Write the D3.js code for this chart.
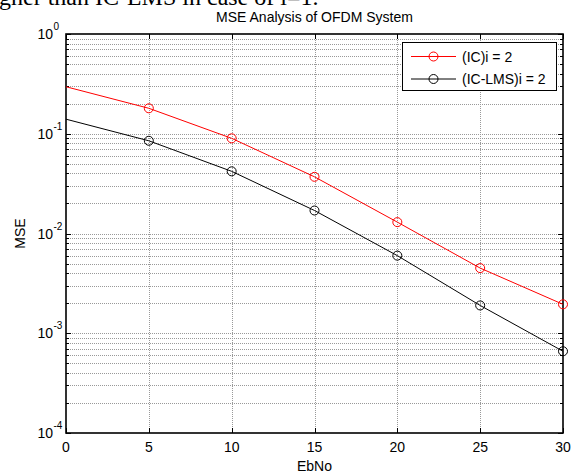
<!DOCTYPE html>
<html>
<head>
<meta charset="utf-8">
<script src="https://cdn.jsdelivr.net/npm/d3@7"></script>
<style>
  body { margin: 0; background: #fff; }
  svg { display: block; font-family: Arial, "Liberation Sans", sans-serif; }
</style>
</head>
<body>
<div id="chart"></div>
<script>
// data
var ebno = [0, 5, 10, 15, 20, 25, 30];
var mseIC = [0.296, 0.18, 0.09, 0.037, 0.013, 0.0045, 0.00195];
var mseICLMS = [0.14, 0.085, 0.042, 0.017, 0.006, 0.0019, 0.00066];
var seriesNames = ['(IC)i = 2', '(IC-LMS)i = 2'];
var seriesColors = ['#ff0000', '#000000'];
var xTicks = [0, 5, 10, 15, 20, 25, 30];
var yDecades = [0, -1, -2, -3, -4];

var series = [
  { name: seriesNames[0], color: seriesColors[0], values: mseIC },
  { name: seriesNames[1], color: seriesColors[1], values: mseICLMS }
];

// dimensions
var dimensions = {
  width: 574,
  height: 474,
  left: 66,
  right: 563,
  top: 34,
  bottom: 433
};

var svg = d3.select('#chart')
  .append('svg')
  .attr('width', dimensions.width)
  .attr('height', dimensions.height);

// scales
var xScale = d3.scaleLinear()
  .domain([0, 30])
  .range([dimensions.left, dimensions.right]);

var yScale = d3.scaleLog()
  .domain([1e-4, 1])
  .range([dimensions.bottom, dimensions.top]);

// cut-off sentence at the very top (page text above the figure)
svg.append('text')
  .attr('x', -1)
  .attr('y', 5)
  .attr('font-family', '"Liberation Serif", "Times New Roman", serif')
  .attr('font-size', 24)
  .text('gher than IC-LMS in case of i=1.');

// grid
var yAllTicks = yScale.ticks();
var grid = svg.append('g')
  .attr('stroke', '#999')
  .attr('stroke-width', 1)
  .attr('stroke-dasharray', '1,1');

grid.selectAll('.hgrid')
  .data(yAllTicks.filter(d => d > 1e-4 && d < 1))
  .join('line')
  .attr('x1', dimensions.left)
  .attr('x2', dimensions.right)
  .attr('y1', d => Math.round(yScale(d)) + 0.5)
  .attr('y2', d => Math.round(yScale(d)) + 0.5);

grid.selectAll('.vgrid')
  .data(xTicks.slice(1, -1))
  .join('line')
  .attr('x1', d => Math.round(xScale(d)) + 0.5)
  .attr('x2', d => Math.round(xScale(d)) + 0.5)
  .attr('y1', dimensions.top)
  .attr('y2', dimensions.bottom);

// ticks (inside)
var ticks = svg.append('g').attr('stroke', '#000').attr('stroke-width', 1);
var isMajor = d => Math.abs(Math.log10(d) - Math.round(Math.log10(d))) < 1e-9;

yAllTicks.forEach(function(d) {
  var y = Math.round(yScale(d)) + 0.5;
  var len = isMajor(d) ? 5 : 3;
  ticks.append('line').attr('x1', dimensions.left).attr('x2', dimensions.left + len).attr('y1', y).attr('y2', y);
  ticks.append('line').attr('x1', dimensions.right).attr('x2', dimensions.right - len).attr('y1', y).attr('y2', y);
});

xTicks.forEach(function(d) {
  var x = Math.round(xScale(d)) + 0.5;
  ticks.append('line').attr('x1', x).attr('x2', x).attr('y1', dimensions.bottom).attr('y2', dimensions.bottom - 5);
  ticks.append('line').attr('x1', x).attr('x2', x).attr('y1', dimensions.top).attr('y2', dimensions.top + 5);
});

// box
svg.append('rect')
  .attr('x', dimensions.left)
  .attr('y', dimensions.top)
  .attr('width', dimensions.right - dimensions.left)
  .attr('height', dimensions.bottom - dimensions.top)
  .attr('fill', 'none')
  .attr('stroke', '#000')
  .attr('stroke-width', 1.6);

// tick labels
svg.append('g')
  .selectAll('text')
  .data(xTicks)
  .join('text')
  .attr('x', d => xScale(d))
  .attr('y', dimensions.bottom + 19)
  .attr('text-anchor', 'middle')
  .attr('font-size', 14)
  .text(d => d);

var yLabels = svg.append('g').attr('font-size', 14);
yDecades.forEach(function(e) {
  var y = yScale(Math.pow(10, e));
  yLabels.append('text')
    .attr('x', 53)
    .attr('y', y + 5)
    .attr('text-anchor', 'end')
    .text('10');
  yLabels.append('text')
    .attr('x', 53.5)
    .attr('y', y - 4)
    .attr('font-size', 10)
    .text(e);
});

// axis titles
svg.append('text')
  .attr('x', (dimensions.left + dimensions.right) / 2)
  .attr('y', 22)
  .attr('text-anchor', 'middle')
  .attr('font-size', 14)
  .text('MSE Analysis of OFDM System');

svg.append('text')
  .attr('x', (dimensions.left + dimensions.right) / 2)
  .attr('y', 471)
  .attr('text-anchor', 'middle')
  .attr('font-size', 14)
  .text('EbNo');

svg.append('text')
  .attr('transform', 'translate(25,' + (dimensions.top + dimensions.bottom) / 2 + ') rotate(-90)')
  .attr('text-anchor', 'middle')
  .attr('font-size', 14)
  .text('MSE');

// lines
var line = d3.line()
  .x((d, i) => xScale(ebno[i]))
  .y(d => yScale(d));

series.forEach(function(s) {
  svg.append('path')
    .datum(s.values)
    .attr('d', line)
    .attr('fill', 'none')
    .attr('stroke', s.color)
    .attr('stroke-width', 1);

  svg.append('g')
    .selectAll('circle')
    .data(s.values.slice(1))
    .join('circle')
    .attr('cx', (d, i) => xScale(ebno[i + 1]))
    .attr('cy', d => yScale(d))
    .attr('r', 4.5)
    .attr('fill', 'none')
    .attr('stroke', s.color)
    .attr('stroke-width', 1);
});

// legend
var legend = svg.append('g');
legend.append('rect')
  .attr('x', 402.5)
  .attr('y', 42.5)
  .attr('width', 154)
  .attr('height', 48)
  .attr('fill', '#fff')
  .attr('stroke', '#000')
  .attr('stroke-width', 1);

series.forEach(function(s, i) {
  var y = 56.5 + i * 22.5;
  legend.append('line')
    .attr('x1', 411).attr('x2', 456)
    .attr('y1', y).attr('y2', y)
    .attr('stroke', s.color);
  legend.append('circle')
    .attr('cx', 433.5).attr('cy', y)
    .attr('r', 4.5)
    .attr('fill', 'none')
    .attr('stroke', s.color);
  legend.append('text')
    .attr('x', 462)
    .attr('y', y + 5)
    .attr('font-size', 14)
    .text(s.name);
});
</script>
</body>
</html>
